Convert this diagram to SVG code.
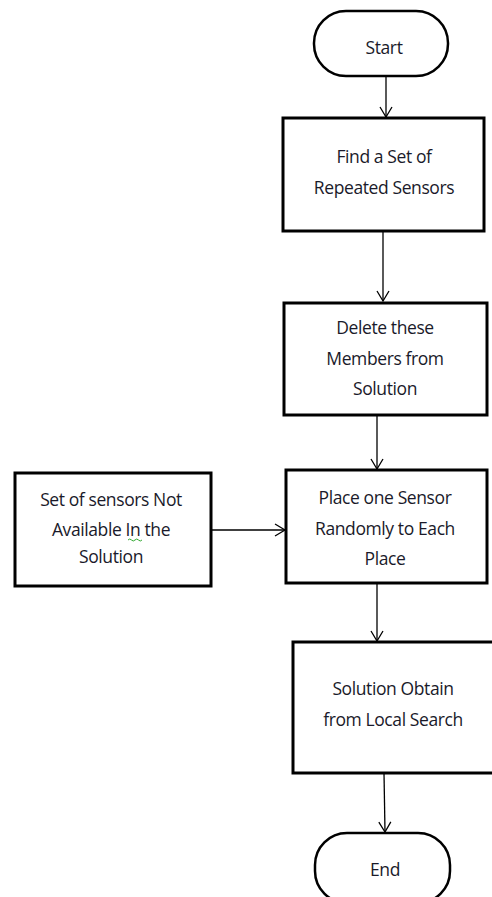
<svg xmlns="http://www.w3.org/2000/svg" width="492" height="897" viewBox="0 0 492 897">
<defs>
<style>
.box{fill:#fff;stroke:#000;stroke-width:3}
.term{fill:#fff;stroke:#000;stroke-width:2.5}
.t{font-family:"Open Sans","Noto Sans",sans-serif;font-size:17.5px;fill:#1a1a2a;text-anchor:middle;letter-spacing:-0.4px}
.c{fill:none;stroke:#000;stroke-width:1.3}
</style>
<marker id="ah" markerWidth="14" markerHeight="14" refX="12" refY="7" orient="auto" markerUnits="userSpaceOnUse">
<path d="M2,1 L12,7 L2,13" fill="none" stroke="#000" stroke-width="1.3"/>
</marker>
</defs>
<rect width="492" height="897" fill="#fff"/>
<g id="connectors">
<line class="c" x1="386" y1="76" x2="386" y2="117" marker-end="url(#ah)"/>
<line class="c" x1="383" y1="231" x2="383" y2="301" marker-end="url(#ah)"/>
<line class="c" x1="377" y1="415" x2="377" y2="469" marker-end="url(#ah)"/>
<line class="c" x1="211" y1="530" x2="285" y2="530" marker-end="url(#ah)"/>
<line class="c" x1="377" y1="583" x2="377" y2="641" marker-end="url(#ah)"/>
<line class="c" x1="384" y1="773" x2="385" y2="832" marker-end="url(#ah)"/>
</g>
<g id="start">
<rect class="term" x="314" y="11" width="134" height="65" rx="32" ry="32"/>
<text class="t" x="384" y="54">Start</text>
</g>
<g id="find">
<rect class="box" x="283" y="118" width="201" height="113"/>
<text class="t" x="384" y="163">Find a Set of</text>
<text class="t" x="384" y="194">Repeated Sensors</text>
</g>
<g id="delete">
<rect class="box" x="284" y="303" width="203" height="112"/>
<text class="t" x="385" y="334">Delete these</text>
<text class="t" x="385" y="365">Members from</text>
<text class="t" x="385" y="395">Solution</text>
</g>
<g id="place">
<rect class="box" x="286" y="470" width="201" height="113"/>
<text class="t" x="385" y="504">Place one Sensor</text>
<text class="t" x="385" y="535">Randomly to Each</text>
<text class="t" x="385" y="565">Place</text>
</g>
<g id="notavail">
<rect class="box" x="15" y="473" width="196" height="113"/>
<text class="t" x="111" y="506">Set of sensors Not</text>
<text class="t" x="111" y="536">Available In the</text>
<text class="t" x="111" y="563">Solution</text>
<path d="M128,540 q1.75,-2 3.5,0 t3.5,0 t3.5,0 t3.5,0" fill="none" stroke="#3a3" stroke-width="1"/>
</g>
<g id="solution">
<rect class="box" x="293" y="642" width="201" height="131"/>
<text class="t" x="393" y="695">Solution Obtain</text>
<text class="t" x="393" y="726">from Local Search</text>
</g>
<g id="end">
<rect class="term" x="315" y="833" width="135" height="70" rx="32" ry="32"/>
<text class="t" x="385" y="876">End</text>
</g>
</svg>
